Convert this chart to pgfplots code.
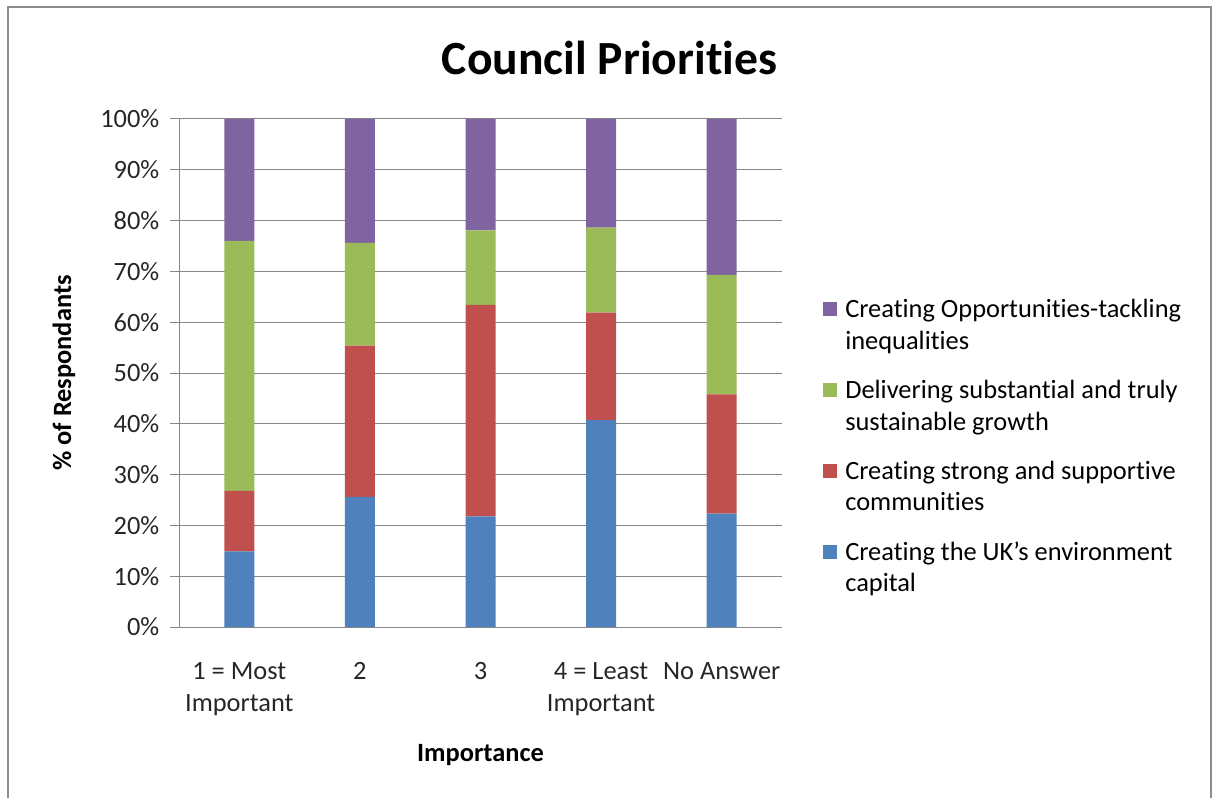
\documentclass[border=0pt]{standalone}
\usepackage{pgfplots}
\pgfplotsset{compat=1.18}
\usepackage{fontspec}
\setmainfont{Carlito}[Ligatures=NoCommon]

\definecolor{envblue}{HTML}{4F81BD}
\definecolor{commred}{HTML}{C0504D}
\definecolor{growgreen}{HTML}{9BBB59}
\definecolor{oppurple}{HTML}{8064A2}
\definecolor{gridgray}{HTML}{878787}
\definecolor{framegray}{HTML}{8C8C8C}

\newcommand{\lbl}{\fontsize{19.8pt}{23.8pt}\selectfont}

\begin{document}
\begin{tikzpicture}[x=0.75pt,y=0.75pt]
\useasboundingbox (0,0) rectangle (1213,-798);
% chart area border (bottom edge is off the page)
\draw[framegray, line width=1.5pt] (8,-820) -- (8,-7) -- (1211,-7) -- (1211,-820);
\node[font=\fontsize{35.7pt}{42pt}\selectfont\bfseries, anchor=base] at (609.5,-75) {Council Priorities};

\begin{axis}[
    at={(134.25pt,-470.25pt)}, anchor=south west,
    width=452.25pt, height=381pt, scale only axis,
    ybar stacked, bar width=22.5pt,
    xmin=-0.5, xmax=4.5,
    ymin=0, ymax=100,
    xtick={0,1,2,3,4},
    xticklabels={{1 = Most\\Important},{2},{3},{4 = Least\\Important},{No Answer}},
    ytick={0,10,...,100},
    /pgf/number format/assume math mode=true,
    yticklabel={\pgfmathprintnumber{\tick}\%},
    axis x line=bottom, axis y line=left,
    axis line style={-, gridgray, line width=0.75pt},
    ymajorgrids, grid style={gridgray, line width=0.75pt},
    tick align=outside,
    major tick length=6.75pt,
    ytick style={gridgray, line width=0.75pt},
    xtick style={draw=none},
    tick label style={font=\lbl, text=black!85},
    xticklabel style={align=center, yshift=-16.5pt},
    yticklabel style={xshift=-4.5pt},
    xlabel={Importance}, ylabel={\% of Respondants},
    every axis x label/.style={at={(axis description cs:0.5,-0.2657)}, anchor=base, font=\lbl\bfseries},
    every axis y label/.style={at={(axis description cs:-0.1791,0.5)}, rotate=90, anchor=base, font=\lbl\bfseries},
    reverse legend,
    legend style={draw=none, fill=none, at={(1.0614,0.355)}, anchor=west,
        font=\lbl, row sep=17.5pt, cells={anchor=base west, align=left},
        /tikz/every odd column/.append style={column sep=4pt},
        /tikz/every even column/.append style={column sep=0pt}},
    legend image code/.code={\fill[#1, draw=none] (0pt,24.85pt) rectangle (10.5pt,35.35pt);},
]
\addplot[fill=envblue, draw=none] coordinates {(0,14.9) (1,25.6) (2,21.8) (3,40.7) (4,22.3)};
\addlegendentry{Creating the UK’s environment\\capital}
\addplot[fill=commred, draw=none] coordinates {(0,11.9) (1,29.8) (2,41.6) (3,21.2) (4,23.5)};
\addlegendentry{Creating strong and supportive\\communities}
\addplot[fill=growgreen, draw=none] coordinates {(0,49.2) (1,20.2) (2,14.7) (3,16.7) (4,23.5)};
\addlegendentry{Delivering substantial and truly\\sustainable growth}
\addplot[fill=oppurple, draw=none] coordinates {(0,24.0) (1,24.4) (2,21.9) (3,21.4) (4,30.7)};
\addlegendentry{Creating Opportunities-tackling\\inequalities}
\end{axis}
\end{tikzpicture}
\end{document}
